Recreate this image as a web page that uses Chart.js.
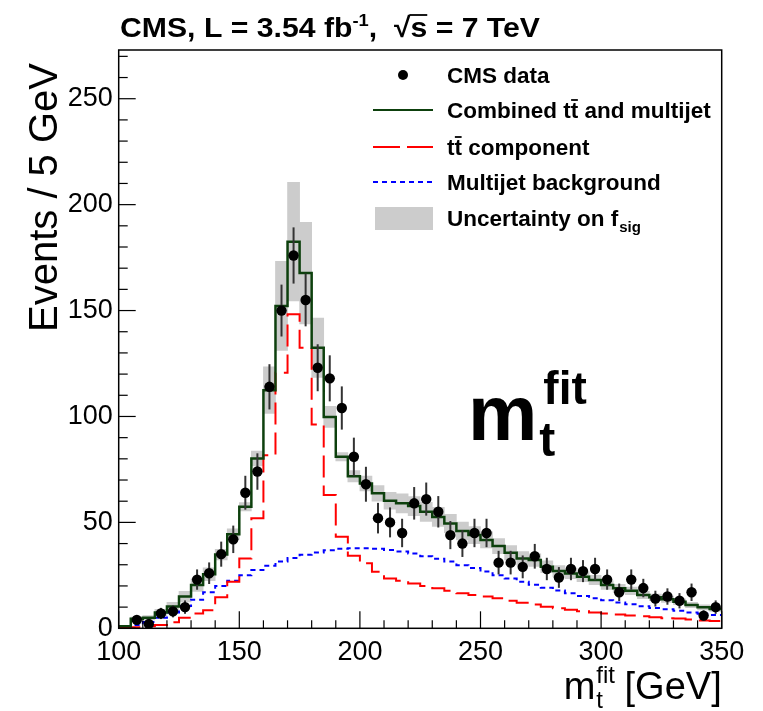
<!DOCTYPE html>
<html>
<head>
<meta charset="utf-8">
<script src="https://cdn.jsdelivr.net/npm/chart.js@4.4.3/dist/chart.umd.min.js"></script>
<style>
  html, body { margin: 0; padding: 0; background: #fff; }
  canvas { display: block; }
</style>
</head>
<body>
<canvas id="chart" width="763" height="711"></canvas>
<script>
// binning: 5 GeV bins from 100 to 350 GeV
const binLow = 100;
const binWidth = 5;

// CMS data (events per bin), first bin empty
const dataCounts = [null, 4, 2, 7, 8, 10, 23, 26, 35, 42, 64, 74, 114, 150, 176, 155, 123, 118, 104, 81,
  68, 52, 50, 45, 59, 61, 55, 44, 40, 45, 45, 31, 31, 29, 34, 28, 24, 28, 27, 28,
  23, 17, 23, 19, 14, 15, 13, 17, 6, 10];

// combined ttbar + multijet fit
const combined = [1, 4.5, 5, 7.5, 10.3, 15, 20.4, 25.5, 34.8, 44.4, 57.4, 80.2, 112.4, 152.2, 182.5, 167.7, 132.4, 99.8, 81, 71.8,
  68.4, 63.7, 60.2, 59, 57.7, 55, 52.6, 49.5, 45.9, 44, 41.7, 38.8, 35.7, 33, 32.2, 29.1, 27, 25.9, 24.3, 22.8,
  20.4, 18.9, 17.7, 15.7, 14.6, 13.7, 12.5, 11, 9.9, 9.1];

// ttbar component
const ttbar = [0.3, 0.5, 1, 1.5, 2.8, 5, 7, 8.5, 14.6, 22, 33, 52, 81.7, 120.6, 148.3, 132.4, 96.2, 62.9, 43.2, 34.2,
  30.7, 26.7, 23.5, 22.5, 21.2, 20, 18.9, 17.7, 16.5, 15.7, 15, 14.2, 13, 12.1, 11.2, 10.2, 9.5, 8.8, 8, 7.4,
  7, 6.5, 6, 5.7, 5.2, 4.8, 4.6, 4.2, 3.7, 3.4];

// multijet background
const multijet = [0.5, 1.5, 3, 5, 7.5, 10.5, 13.5, 17, 20, 22.5, 25, 27.5, 29.5, 31.5, 33.2, 34.7, 35.8, 36.8, 37.5, 37.8,
  37.8, 37.5, 37, 36.3, 35.3, 34, 32.8, 31.5, 29.8, 28.5, 26.8, 25, 23.5, 22, 20.5, 19.2, 17.8, 16.5, 15.3, 14.2,
  13.2, 12.2, 11.3, 10.4, 9.6, 9, 8.3, 7.5, 6.9, 6.3];

// half width of the f_sig uncertainty band around the combined fit
const bandHalf = [0.3, 0.8, 1, 1.5, 2, 2.5, 3, 3, 2.5, 2.5, 2, 3.5, 11, 21, 28, 24, 14, 5, 2, 2.7,
  3.5, 3.7, 4, 4.5, 4.5, 4.5, 4.5, 4.3, 4.2, 4, 3.8, 3.6, 3.4, 3.2, 3, 2.8, 2.6, 2.5, 2.3, 2.2,
  2, 1.9, 1.8, 1.7, 1.6, 1.5, 1.4, 1.3, 1.2, 1.1];

const xTicks = [100, 150, 200, 250, 300, 350];
const yTicks = [0, 50, 100, 150, 200, 250];

const FONT = '"Liberation Sans", Arial, Helvetica, sans-serif';

const center = i => binLow + (i + 0.5) * binWidth;
// step outline: one point at each low edge, plus the last high edge
function histPoints(arr) {
  const pts = arr.map((v, i) => ({ x: binLow + i * binWidth, y: v }));
  pts.push({ x: binLow + arr.length * binWidth, y: arr[arr.length - 1] });
  return pts;
}

const errorBars = {
  id: 'errorBars',
  beforeDatasetDraw(chart, args) {
    if (args.index !== 4) return;
    const { ctx, scales: { x, y }, chartArea } = chart;
    ctx.save();
    ctx.strokeStyle = '#333';
    ctx.lineWidth = 2;
    dataCounts.forEach((n, i) => {
      if (n == null) return;
      const e = Math.sqrt(n);
      const px = x.getPixelForValue(center(i));
      const top = Math.max(y.getPixelForValue(n + e), chartArea.top);
      const bot = Math.min(y.getPixelForValue(n - e), chartArea.bottom);
      ctx.beginPath();
      ctx.moveTo(px, top);
      ctx.lineTo(px, bot);
      ctx.stroke();
    });
    ctx.restore();
  }
};

function drawTBar(ctx, x, w, baseline, size) {
  ctx.save();
  ctx.lineWidth = Math.max(1.5, size * 0.08);
  ctx.beginPath();
  const yy = baseline - size * 0.8;
  ctx.moveTo(x + w * 0.05, yy);
  ctx.lineTo(x + w * 0.95, yy);
  ctx.stroke();
  ctx.restore();
}

const decorations = {
  id: 'decorations',
  afterDraw(chart) {
    const { ctx, chartArea: a, scales: { x, y } } = chart;
    ctx.save();
    ctx.strokeStyle = '#000';
    ctx.fillStyle = '#000';

    // frame
    ctx.lineWidth = 1.5;
    ctx.strokeRect(a.left, a.top, a.right - a.left, a.bottom - a.top);

    // tick marks pointing inwards
    ctx.lineWidth = 1.2;
    for (let v = 100; v <= 350; v += 10) {
      const px = x.getPixelForValue(v);
      const len = v % 50 === 0 ? 17 : 8;
      ctx.beginPath(); ctx.moveTo(px, a.bottom); ctx.lineTo(px, a.bottom - len); ctx.stroke();
    }
    for (let v = 0; v <= 270; v += 10) {
      const py = y.getPixelForValue(v);
      const len = v % 50 === 0 ? 17 : 9;
      ctx.beginPath(); ctx.moveTo(a.left, py); ctx.lineTo(a.left + len, py); ctx.stroke();
    }

    // title
    ctx.save();
    const tf = 'bold 28px ' + FONT;
    const tfs = 'bold 17px ' + FONT;
    ctx.font = tf;
    const p1 = 'CMS, L = 3.54 fb', p3 = ',  ', p4 = '\u221As', p5 = ' = 7 TeV';
    const w1 = ctx.measureText(p1).width, w3 = ctx.measureText(p3).width;
    const w4 = ctx.measureText(p4).width, w5 = ctx.measureText(p5).width;
    ctx.font = tfs;
    const w2 = ctx.measureText('-1').width;
    const total = w1 + w2 + w3 + w4 + w5;
    ctx.translate(120, 37);
    ctx.scale(420 / total, 1);
    ctx.textBaseline = 'alphabetic';
    ctx.font = tf;
    let cx = 0;
    ctx.fillText(p1, cx, 0); cx += w1;
    ctx.font = tfs; ctx.fillText('-1', cx, -11); cx += w2;
    ctx.font = tf; ctx.fillText(p3, cx, 0); cx += w3;
    ctx.fillText(p4, cx, 0);
    const rw = ctx.measureText('\u221A').width;
    ctx.lineWidth = 1.8;
    ctx.beginPath(); ctx.moveTo(cx + rw - 1, -22); ctx.lineTo(cx + w4, -22); ctx.stroke();
    cx += w4;
    ctx.fillText(p5, cx, 0);
    ctx.restore();

    // legend
    ctx.save();
    const lsize = 22.5;
    ctx.font = 'bold ' + lsize + 'px ' + FONT;
    ctx.textBaseline = 'alphabetic';
    const tx = 447;
    const rows = [75, 110, 147, 182, 218];
    const base = r => r + 8;
    // CMS data
    ctx.beginPath(); ctx.arc(403, rows[0], 5, 0, Math.PI * 2); ctx.fill();
    ctx.fillText('CMS data', tx, base(rows[0]));
    // combined
    ctx.strokeStyle = '#0d400d'; ctx.lineWidth = 2;
    ctx.beginPath(); ctx.moveTo(373, rows[1]); ctx.lineTo(433, rows[1]); ctx.stroke();
    let s = 'Combined t';
    let wx = tx + ctx.measureText(s).width;
    const tw = ctx.measureText('t').width;
    ctx.fillText(s + 't and multijet', tx, base(rows[1]));
    ctx.strokeStyle = '#000';
    drawTBar(ctx, wx, tw, base(rows[1]), lsize);
    // ttbar
    ctx.strokeStyle = '#ff0000'; ctx.lineWidth = 2; ctx.setLineDash([27, 7]);
    ctx.beginPath(); ctx.moveTo(373, rows[2]); ctx.lineTo(433, rows[2]); ctx.stroke();
    ctx.setLineDash([]);
    ctx.fillText('tt component', tx, base(rows[2]));
    ctx.strokeStyle = '#000';
    drawTBar(ctx, tx + tw, tw, base(rows[2]), lsize);
    // multijet
    ctx.strokeStyle = '#0000ff'; ctx.lineWidth = 2; ctx.setLineDash([5, 4]);
    ctx.beginPath(); ctx.moveTo(373, rows[3]); ctx.lineTo(433, rows[3]); ctx.stroke();
    ctx.setLineDash([]);
    ctx.fillText('Multijet background', tx, base(rows[3]));
    // band
    ctx.fillStyle = '#cccccc';
    ctx.fillRect(375, rows[4] - 11, 58, 23);
    ctx.fillStyle = '#000';
    s = 'Uncertainty on f';
    ctx.fillText(s, tx, base(rows[4]));
    wx = tx + ctx.measureText(s).width + 1;
    ctx.font = 'bold 15px ' + FONT;
    ctx.fillText('sig', wx, base(rows[4]) + 6);
    ctx.restore();

    // big m_t^fit label
    ctx.save();
    ctx.textBaseline = 'alphabetic';
    ctx.font = 'bold 78px ' + FONT;
    ctx.fillText('m', 468, 440);
    const mw = ctx.measureText('m').width;
    ctx.font = 'bold 48px ' + FONT;
    ctx.fillText('t', 468 + mw + 2, 456);
    ctx.font = 'bold 46px ' + FONT;
    ctx.fillText('fit', 468 + mw + 6, 404);
    ctx.restore();

    // x axis title  m_t^fit [GeV], right aligned at frame edge
    ctx.save();
    ctx.textBaseline = 'alphabetic';
    const big = '38px ' + FONT, small = '24px ' + FONT;
    ctx.font = big;
    const wm = ctx.measureText('m').width;
    const wg = ctx.measureText(' [GeV]').width;
    ctx.font = small;
    const wsub = Math.max(ctx.measureText('t').width, ctx.measureText('fit').width);
    const x0 = a.right - (wm + wsub + wg);
    ctx.font = big;
    ctx.fillText('m', x0, 699);
    ctx.font = small;
    ctx.fillText('fit', x0 + wm + 1, 683);
    ctx.fillText('t', x0 + wm + 1, 708);
    ctx.font = big;
    ctx.fillText(' [GeV]', x0 + wm + wsub, 699);
    ctx.restore();

    // y axis title
    ctx.save();
    ctx.font = '40px ' + FONT;
    ctx.textBaseline = 'alphabetic';
    ctx.translate(57, 332);
    ctx.rotate(-Math.PI / 2);
    ctx.fillText('Events / 5 GeV', 0, 0);
    ctx.restore();

    ctx.restore();
  }
};

new Chart(document.getElementById('chart'), {
  type: 'line',
  data: {
    datasets: [
      {
        type: 'bar',
        label: 'Uncertainty on f_sig',
        data: combined.map((v, i) => ({ x: center(i), y: [v - bandHalf[i], v + bandHalf[i]] })),
        backgroundColor: '#cccccc',
        borderWidth: 0,
        barPercentage: 1,
        categoryPercentage: 1,
        grouped: false,
        order: 5
      },
      {
        label: 'Multijet background',
        data: histPoints(multijet),
        stepped: 'before',
        borderColor: '#0000ff',
        borderWidth: 2,
        borderDash: [5, 4],
        pointRadius: 0,
        fill: false,
        order: 4
      },
      {
        label: 'ttbar component',
        data: histPoints(ttbar),
        stepped: 'before',
        borderColor: '#ff0000',
        borderWidth: 2,
        borderDash: [22, 8],
        pointRadius: 0,
        fill: false,
        order: 3
      },
      {
        label: 'Combined ttbar and multijet',
        data: histPoints(combined),
        stepped: 'before',
        borderColor: '#0d400d',
        borderWidth: 2.5,
        pointRadius: 0,
        fill: false,
        order: 2
      },
      {
        type: 'scatter',
        label: 'CMS data',
        data: dataCounts.map((n, i) => ({ x: center(i), y: n })),
        backgroundColor: '#000',
        borderWidth: 0,
        pointRadius: 5.2,
        order: 1
      }
    ]
  },
  options: {
    responsive: false,
    devicePixelRatio: 1,
    animation: false,
    events: [],
    layout: { padding: { left: 0, right: 41.3, top: 50, bottom: 0 } },
    plugins: { legend: { display: false }, tooltip: { enabled: false } },
    scales: {
      x: {
        type: 'linear',
        min: 100,
        max: 350,
        offset: false,
        grid: { display: false, drawTicks: false },
        border: { display: false },
        afterFit(scale) { scale.height = 82.7; },
        afterBuildTicks(scale) { scale.ticks = xTicks.map(v => ({ value: v })); },
        ticks: {
          font: { family: FONT, size: 27 },
          color: '#000',
          padding: 8,
          maxRotation: 0
        }
      },
      y: {
        type: 'linear',
        min: 0,
        max: 273,
        grid: { display: false, drawTicks: false },
        border: { display: false },
        afterFit(scale) { scale.width = 118.7; },
        afterBuildTicks(scale) { scale.ticks = yTicks.map(v => ({ value: v })); },
        ticks: {
          font: { family: FONT, size: 27 },
          color: '#000',
          padding: 6
        }
      }
    }
  },
  plugins: [errorBars, decorations]
});
</script>
</body>
</html>
